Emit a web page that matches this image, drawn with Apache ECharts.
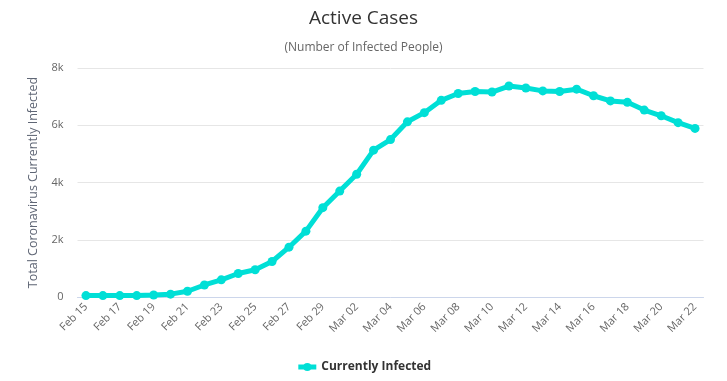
<!DOCTYPE html>
<html>
<head>
<meta charset="utf-8">
<script src="https://cdn.jsdelivr.net/npm/echarts@6/dist/echarts.min.js"></script>
<style>html,body{margin:0;padding:0;background:#fff}#c{width:727px;height:381px}</style>
</head>
<body>
<div id="c"></div>
<script>
const categories = ["Feb 15","Feb 16","Feb 17","Feb 18","Feb 19","Feb 20","Feb 21","Feb 22","Feb 23","Feb 24","Feb 25","Feb 26","Feb 27","Feb 28","Feb 29","Mar 01","Mar 02","Mar 03","Mar 04","Mar 05","Mar 06","Mar 07","Mar 08","Mar 09","Mar 10","Mar 11","Mar 12","Mar 13","Mar 14","Mar 15","Mar 16","Mar 17","Mar 18","Mar 19","Mar 20","Mar 21","Mar 22"];
const currentlyInfected = [50,50,50,50,70,100,200,420,600,820,950,1240,1740,2300,3120,3700,4290,5130,5500,6120,6440,6870,7110,7180,7160,7370,7300,7200,7180,7260,7030,6850,6800,6530,6330,6090,5890];
const yTicks = [0,2000,4000,6000,8000];

const chart = echarts.init(document.getElementById('c'));
chart.setOption({
  animation: false,
  title: [
    {text: 'Active Cases', left: 'center', top: 4, textStyle: {fontFamily: 'Open Sans', fontSize: 19, fontWeight: 'normal', color: '#333333'}},
    {text: '(Number of Infected People)', left: 'center', top: 37, textStyle: {fontFamily: 'Open Sans', fontSize: 12, fontWeight: 'normal', color: '#666666'}}
  ],
  legend: {
    bottom: 3, left: 'center',
    itemWidth: 18, itemHeight: 10,
    lineStyle: {width: 5},
    textStyle: {fontFamily: 'Open Sans', fontSize: 12, fontWeight: 'bold', color: '#333333'},
    data: ['Currently Infected']
  },
  grid: {left: 77.5, right: 23.5, top: 68, bottom: 84},
  xAxis: {
    type: 'category', data: categories, boundaryGap: true,
    axisLine: {lineStyle: {color: '#ccd6eb'}},
    axisTick: {show: false},
    axisLabel: {interval: 1, rotate: 45, color: '#666666', fontFamily: 'Open Sans', fontSize: 11, margin: 8}
  },
  yAxis: {
    type: 'value', min: yTicks[0], max: yTicks[yTicks.length-1], interval: 2000,
    name: 'Total Coronavirus Currently Infected', nameLocation: 'middle', nameGap: 38,
    nameTextStyle: {color: '#5f6675', fontFamily: 'Open Sans', fontSize: 12.5},
    axisLine: {show: false}, axisTick: {show: false},
    axisLabel: {color: '#666666', fontFamily: 'Open Sans', fontSize: 11, margin: 14,
      formatter: v => v === 0 ? '0' : (v/1000) + 'k'},
    splitLine: {lineStyle: {color: '#e6e6e6'}}
  },
  series: [{
    name: 'Currently Infected', type: 'line', data: currentlyInfected,
    symbol: 'circle', symbolSize: 9, showAllSymbol: true,
    lineStyle: {width: 5, color: '#00dfd6'},
    itemStyle: {color: '#00dfd6'}
  }]
});
</script>
</body>
</html>
